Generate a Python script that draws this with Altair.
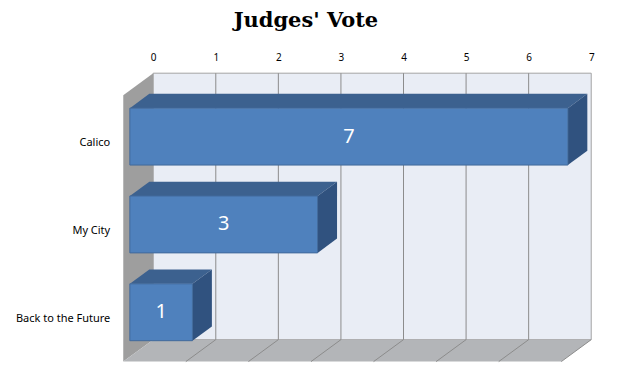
import json
import altair as alt
import pandas as pd

# ---- data ----
categories = ["Calico", "My City", "Back to the Future"]
votes = [7, 3, 1]
ticks = [0, 1, 2, 3, 4, 5, 6, 7]

# ---- pseudo-3D projection constants (in scale units) ----
DX = -30 / 62.7      # full depth shift along x (value units)
DY = 22 / 88         # full depth shift along y (category units)
D_FRONT = 0.78       # depth of bar front face (0 = back wall, 1 = front edge)
D_BACK = 0.13        # depth of bar back face
HALF = 0.324         # half bar thickness (category units)
WALL_TOP = -0.527
WALL_BOT = 2.507
XMAX = ticks[-1]

xs = alt.Scale(domain=[-0.6, 7.3], nice=False, zero=False)
ys = alt.Scale(domain=[-0.6, 2.8], nice=False, zero=False, reverse=True)

FONT = "Noto Sans"
label_expr = json.dumps(categories) + "[datum.value]"
xaxis = alt.Axis(orient="top", values=ticks, domain=False, ticks=False,
                 grid=False, labelPadding=4, title=None, labelFlush=False,
                 labelFont=FONT, labelFontSize=10, labelColor="#000000")
yaxis = alt.Axis(orient="left", values=list(range(len(categories))),
                 labelExpr=label_expr, domain=False, ticks=False, grid=False,
                 labelPadding=6, labelOffset=23, title=None,
                 labelFont=FONT, labelFontSize=11, labelColor="#000000")


def X(f="x:Q", **kw):
    return alt.X(f, scale=xs, axis=xaxis, **kw)


def Y(f="y:Q", **kw):
    return alt.Y(f, scale=ys, axis=yaxis, **kw)


# back wall
wall = pd.DataFrame({"x": [0], "x2": [XMAX], "y": [WALL_TOP], "y2": [WALL_BOT]})
back = alt.Chart(wall).mark_rect(fill="#E9EDF5", stroke="#A3A3A3", strokeWidth=1).encode(
    x=X(), x2="x2:Q", y=Y(), y2="y2:Q",
)

# left wall (parallelogram)
lw = pd.DataFrame({"x": [DX, 0], "y": [WALL_TOP + DY, WALL_TOP], "y2": [WALL_BOT + DY, WALL_BOT]})
left_wall = alt.Chart(lw).mark_area(orient="vertical", color="#9E9E9E").encode(
    x=X(), y=Y(stack=False), y2="y2:Q",
)

# floor (parallelogram)
fl = pd.DataFrame({"y": [WALL_BOT, WALL_BOT + DY], "x": [0, DX], "x2": [XMAX, XMAX + DX]})
floor = alt.Chart(fl).mark_area(orient="horizontal", color="#B3B5B8").encode(
    y=Y(), x=X(stack=False), x2="x2:Q",
)

# grid lines on back wall
gl = pd.DataFrame({"x": ticks[1:-1], "y": WALL_TOP, "y2": WALL_BOT})
grid = alt.Chart(gl).mark_rule(color="#8C8C8C", strokeWidth=1).encode(
    x=X(), y=Y(), y2="y2:Q",
)

# floor lines
rows = []
for k in ticks[1:]:
    rows.append({"k": k, "x": k, "y": WALL_BOT})
    rows.append({"k": k, "x": k + DX, "y": WALL_BOT + DY})
flines = alt.Chart(pd.DataFrame(rows)).mark_line(color="#8C8C8C", strokeWidth=1).encode(
    x=X(), y=Y(), detail="k:N",
)

# bars
front_rows, top_rows, right_rows, lab_rows = [], [], [], []
xf0 = D_FRONT * DX
xb0 = D_BACK * DX
for i, (c, v) in enumerate(zip(categories, votes)):
    ycf = i + D_FRONT * DY
    ycb = i + D_BACK * DY
    front_rows.append({"c": c, "x": xf0, "x2": xf0 + v, "y": ycf - HALF, "y2": ycf + HALF})
    top_rows.append({"c": c, "y": ycf - HALF, "x": xf0, "x2": xf0 + v})
    top_rows.append({"c": c, "y": ycb - HALF, "x": xb0, "x2": xb0 + v})
    right_rows.append({"c": c, "x": xf0 + v, "y": ycf - HALF, "y2": ycf + HALF})
    right_rows.append({"c": c, "x": xb0 + v, "y": ycb - HALF, "y2": ycb + HALF})
    lab_rows.append({"c": c, "x": xf0 + v / 2, "y": ycf, "t": str(v)})

top = alt.Chart(pd.DataFrame(top_rows)).mark_area(orient="horizontal", color="#3C618F").encode(
    y=Y(), x=X(stack=False), x2="x2:Q", detail="c:N",
)
right = alt.Chart(pd.DataFrame(right_rows)).mark_area(orient="vertical", color="#30527F").encode(
    x=X(), y=Y(stack=False), y2="y2:Q", detail="c:N",
)
front = alt.Chart(pd.DataFrame(front_rows)).mark_rect(fill="#4F81BD", stroke="#40699B", strokeWidth=1).encode(
    x=X(), x2="x2:Q", y=Y(), y2="y2:Q",
)
labels = alt.Chart(pd.DataFrame(lab_rows)).mark_text(
    color="white", font=FONT, fontSize=20, align="center", baseline="middle"
).encode(
    x=X(), y=Y(), text="t:N",
)

chart = alt.layer(back, left_wall, floor, grid, flines, top, right, front, labels).properties(
    width=495.33,
    height=299.2,
    padding={"left": 107.88, "top": 58.54, "right": 0, "bottom": 0},
    autosize="none",
    title=alt.TitleParams("Judges' Vote", font="DejaVu Serif", fontSize=21, fontWeight="bold",
                          color="#000000", anchor="middle", frame="group", dx=-57,
                          baseline="alphabetic", offset=5),
).configure_view(stroke=None)

chart.save("out.html", embed_options={"renderer": "svg", "actions": False})
